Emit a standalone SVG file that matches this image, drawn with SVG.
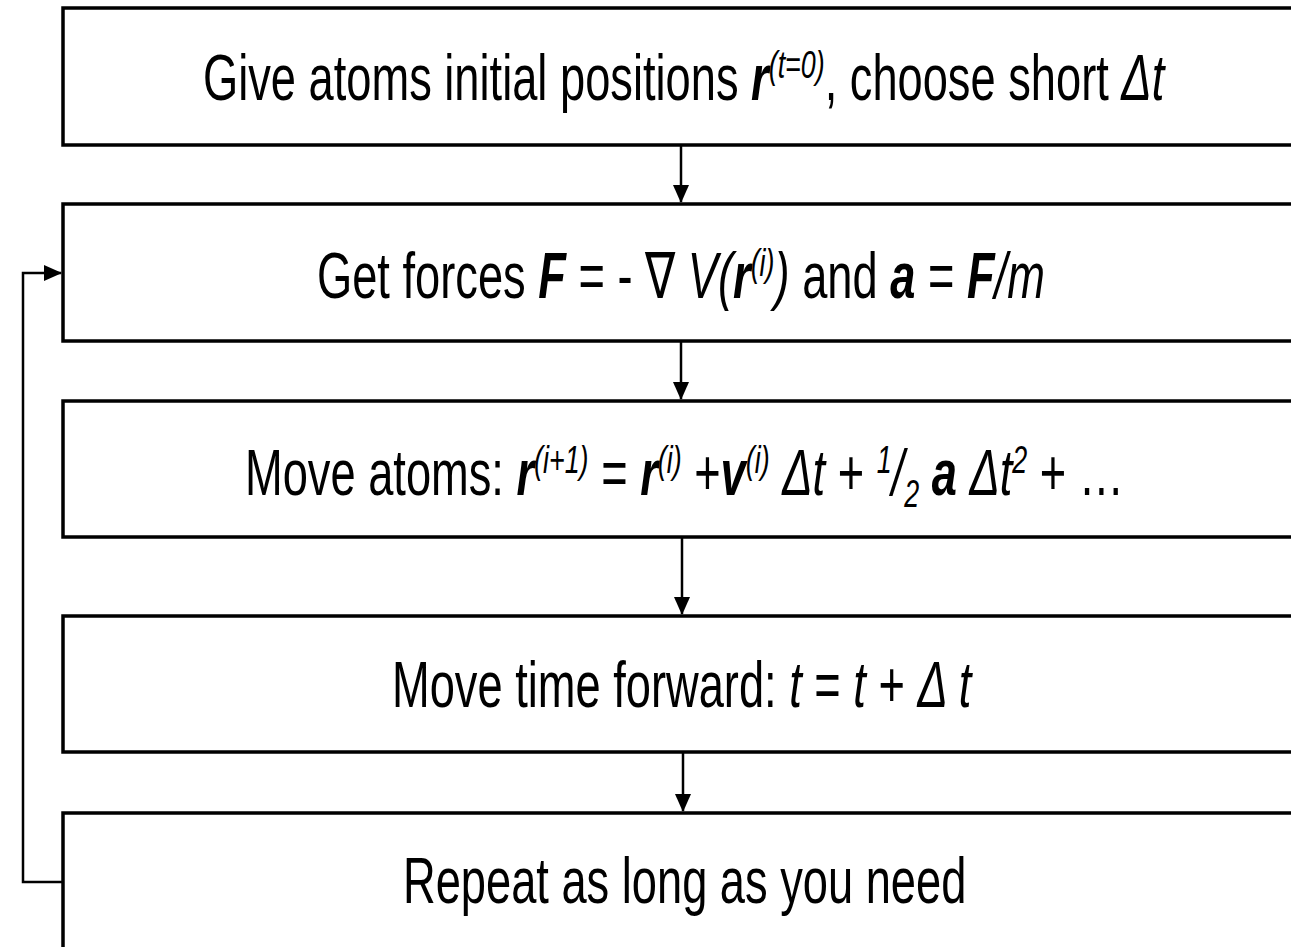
<svg xmlns="http://www.w3.org/2000/svg" width="1291" height="947" viewBox="0 0 1291 947">
<style>
.box{fill:#fff;stroke:#000;stroke-width:3.5}
.t{font-family:"Liberation Sans",Arial,sans-serif;font-size:64px;fill:#000}
.i{font-style:italic}
.bi{font-style:italic;font-weight:bold}
.sup{font-size:38px;font-style:italic}
.conn{fill:none;stroke:#000;stroke-width:2.5}
</style>
<defs>
<marker id="ah" markerUnits="userSpaceOnUse" markerWidth="18" markerHeight="16" refX="17" refY="8" orient="auto">
<polygon points="0,0 18,8 0,16" fill="#000"/>
</marker>
</defs>
<rect width="1291" height="947" fill="#fff"/>
<g id="connectors">
<line class="conn" x1="681" y1="145" x2="681" y2="202" marker-end="url(#ah)"/>
<line class="conn" x1="681" y1="341" x2="681" y2="399" marker-end="url(#ah)"/>
<line class="conn" x1="682" y1="537" x2="682" y2="614" marker-end="url(#ah)"/>
<line class="conn" x1="683" y1="752" x2="683" y2="811" marker-end="url(#ah)"/>
<path class="conn" d="M63 882 H23 V273 H61" marker-end="url(#ah)"/>
</g>
<g id="n1">
<rect class="box" x="63" y="8" width="1300" height="137"/>
<g transform="translate(203,0) scale(0.707,1)">
<text class="t" x="0" y="100">Give atoms initial positions <tspan class="bi">r</tspan><tspan class="sup" dy="-22">(t=0)</tspan><tspan dy="22">, choose short </tspan><tspan class="i">Δt</tspan></text>
</g>
</g>
<g id="n2">
<rect class="box" x="63" y="204" width="1300" height="137"/>
<g transform="translate(317,0) scale(0.707,1)">
<text class="t" x="0" y="298">Get forces <tspan class="bi">F</tspan> = - ∇ <tspan class="i">V(</tspan><tspan class="bi">r</tspan><tspan class="sup" dy="-22">(i)</tspan><tspan class="i" dy="22">)</tspan> and <tspan class="bi">a</tspan> = <tspan class="bi">F</tspan><tspan class="i">/m</tspan></text>
</g>
</g>
<g id="n3">
<rect class="box" x="63" y="401" width="1300" height="136"/>
<g transform="translate(245,0) scale(0.707,1)">
<text class="t" x="0" y="495">Move atoms: <tspan class="bi">r</tspan><tspan class="sup" dy="-22">(i+1)</tspan><tspan dy="22"> = </tspan><tspan class="bi">r</tspan><tspan class="sup" dy="-22">(i)</tspan><tspan dy="22"> +</tspan><tspan class="bi">v</tspan><tspan class="sup" dy="-22">(i)</tspan><tspan class="i" dy="22"> Δt</tspan> + <tspan class="sup" font-style="normal" dy="-22">1</tspan><tspan class="i" dy="22">/</tspan><tspan class="sup" font-style="normal" dy="12">2</tspan><tspan class="bi" dy="-12"> a</tspan> <tspan class="i">Δt</tspan><tspan class="sup" font-style="normal" dy="-22">2</tspan><tspan dy="22"> + …</tspan></text>
</g>
</g>
<g id="n4">
<rect class="box" x="63" y="616" width="1300" height="136"/>
<g transform="translate(392,0) scale(0.707,1)">
<text class="t" x="0" y="707">Move time forward: <tspan class="i">t</tspan> = <tspan class="i">t</tspan> + <tspan class="i">Δ t</tspan></text>
</g>
</g>
<g id="n5">
<rect class="box" x="63" y="813" width="1300" height="200"/>
<g transform="translate(403,0) scale(0.707,1)">
<text class="t" x="0" y="903">Repeat as long as you need</text>
</g>
</g>
</svg>
